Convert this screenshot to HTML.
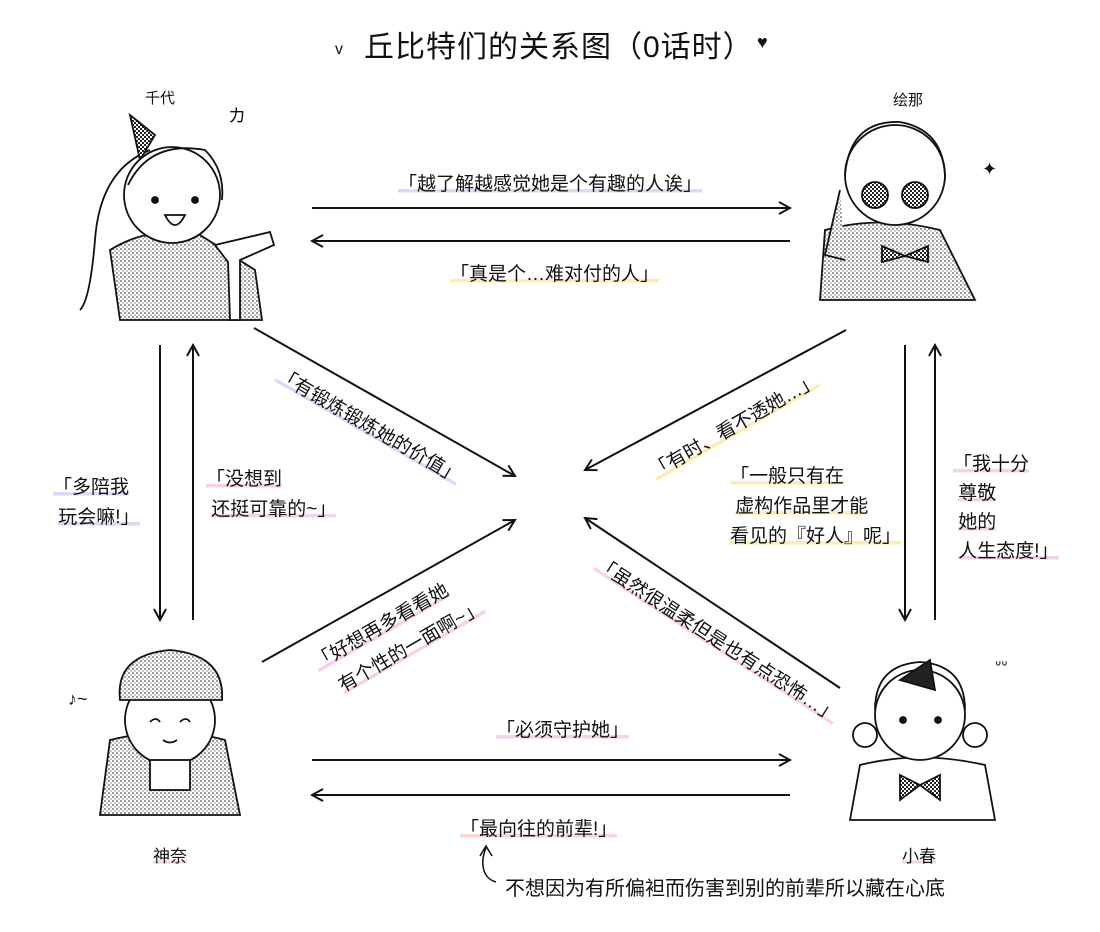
<!DOCTYPE html>
<html><head><meta charset="utf-8"><style>
html,body{margin:0;padding:0;background:#fff}
body{width:1100px;height:932px;position:relative;overflow:hidden;font-family:"Liberation Sans","Noto Sans CJK SC",sans-serif;color:#111}
.t{position:absolute;font-size:19px;line-height:30px;white-space:nowrap}
.p{background:linear-gradient(transparent 72%,rgba(240,180,220,.6) 72%,rgba(240,180,220,.6) 88%,transparent 88%)}
.y{background:linear-gradient(transparent 72%,rgba(250,230,140,.7) 72%,rgba(250,230,140,.7) 88%,transparent 88%)}
.l{background:linear-gradient(transparent 72%,rgba(200,190,240,.6) 72%,rgba(200,190,240,.6) 88%,transparent 88%)}
.r{background:linear-gradient(transparent 72%,rgba(245,185,185,.6) 72%,rgba(245,185,185,.6) 88%,transparent 88%)}
</style></head><body>
<svg width="1100" height="932" style="position:absolute;left:0;top:0">
<defs>
<pattern id="st" width="4" height="4" patternUnits="userSpaceOnUse"><rect width="4" height="4" fill="#fff"/><circle cx="1" cy="1" r="0.9" fill="#555"/><circle cx="3" cy="3" r="0.7" fill="#777"/></pattern>
<pattern id="ck" width="4" height="4" patternUnits="userSpaceOnUse"><rect width="4" height="4" fill="#fff"/><rect width="2" height="2" fill="#222"/><rect x="2" y="2" width="2" height="2" fill="#222"/></pattern>
<marker id="a" markerWidth="14" markerHeight="14" refX="12" refY="7" orient="auto" markerUnits="userSpaceOnUse"><path d="M1,1 L12,7 L1,13" fill="none" stroke="#111" stroke-width="2"/></marker>
</defs>
<g stroke="#111" stroke-width="2" fill="none" marker-end="url(#a)">
<line x1="312" y1="208" x2="790" y2="208"/>
<line x1="790" y1="241" x2="312" y2="241"/>
<line x1="312" y1="760" x2="790" y2="760"/>
<line x1="790" y1="795" x2="312" y2="795"/>
<line x1="160" y1="345" x2="160" y2="620"/>
<line x1="193" y1="620" x2="193" y2="345"/>
<line x1="905" y1="345" x2="905" y2="620"/>
<line x1="935" y1="620" x2="935" y2="345"/>
<line x1="254" y1="328" x2="515" y2="476"/>
<line x1="846" y1="330" x2="585" y2="470"/>
<line x1="262" y1="662" x2="515" y2="520"/>
<line x1="840" y1="688" x2="585" y2="518"/>
</g>
<path d="M496,882 C482,878 480,862 486,848" fill="none" stroke="#111" stroke-width="1.5"/>
<path d="M480,856 L486,846 L492,856" fill="none" stroke="#111" stroke-width="1.5"/>
<g stroke="#111" stroke-width="1.8">
<path d="M120,320 L110,250 Q150,225 200,235 L255,270 L262,320 Z" fill="url(#st)"/>
<path d="M150,150 Q100,170 95,240 Q90,300 80,310" fill="none"/>
<path d="M130,115 L155,135 L140,160 Z" fill="url(#ck)"/>
<circle cx="172" cy="195" r="48" fill="#fff"/>
<path d="M128,185 Q150,140 205,150 Q225,170 222,200" fill="none"/>
<circle cx="155" cy="200" r="3" fill="#111"/><circle cx="195" cy="200" r="3" fill="#111"/>
<path d="M165,215 Q175,235 185,215 Z" fill="#fff"/>
<path d="M215,245 L270,232 L274,245 L240,260 L240,320 L230,320 L228,262 Z" fill="#fff"/>
</g>
<g stroke="#111" stroke-width="1.8">
<path d="M820,300 L825,230 Q880,215 940,230 L975,300 Z" fill="url(#st)"/>
<circle cx="895" cy="175" r="50" fill="#fff"/>
<path d="M845,175 Q850,120 900,122 Q945,130 945,180" fill="none"/>
<circle cx="875" cy="195" r="13" fill="url(#ck)"/><circle cx="915" cy="195" r="13" fill="url(#ck)"/>
<path d="M882,246 L905,256 L928,246 L928,262 L905,256 L882,262 Z" fill="url(#ck)"/>
<path d="M840,190 L825,255 L845,260" fill="url(#st)"/>
</g>
<g stroke="#111" stroke-width="1.8">
<path d="M100,815 L110,740 Q170,725 225,740 L240,815 Z" fill="url(#st)"/>
<circle cx="170" cy="720" r="45" fill="#fff"/>
<path d="M120,700 Q115,655 170,650 Q225,655 222,700 Z" fill="url(#st)"/>
<path d="M150,722 Q156,716 160,722 M180,722 Q186,716 190,722" fill="none"/>
<path d="M163,740 Q170,745 177,740" fill="none"/>
<rect x="150" y="760" width="40" height="30" fill="#fff"/>
</g>
<g stroke="#111" stroke-width="1.8">
<path d="M850,820 L860,765 Q920,750 985,765 L995,820 Z" fill="#fff"/>
<circle cx="920" cy="715" r="45" fill="#fff"/>
<path d="M875,710 Q875,665 920,662 Q965,665 965,710" fill="none"/>
<path d="M900,680 L930,660 L935,690 Z" fill="#222"/>
<circle cx="903" cy="720" r="3" fill="#111"/><circle cx="938" cy="720" r="3" fill="#111"/>
<path d="M900,775 L920,785 L940,775 L940,800 L920,785 L900,800 Z" fill="url(#ck)"/>
<circle cx="865" cy="735" r="12" fill="#fff"/><circle cx="975" cy="735" r="12" fill="#fff"/>
</g>
<text x="228" y="122" font-size="18" fill="#111">カ</text>
<text x="982" y="175" font-size="18" fill="#111">✦</text>
<text x="68" y="705" font-size="18" fill="#111">♪~</text>
<text x="995" y="672" font-size="16" fill="#111">ᐡᐡ</text>
<text x="335" y="54" font-size="16" fill="#111">v</text>
<text x="757" y="48" font-size="18" fill="#111">♥</text>
</svg>
<div class="t" style="left:364px;top:28px;font-size:30px;line-height:40px;letter-spacing:1px">丘比特们的关系图（0话时）</div>
<div class="t" style="left:145px;top:84px;font-size:15px">千代</div>
<div class="t" style="left:893px;top:86px;font-size:15px">绘那</div>
<div class="t" style="left:153px;top:842px;font-size:17px"><span class="p">神奈</span></div>
<div class="t" style="left:902px;top:842px;font-size:17px"><span class="p">小春</span></div>
<div class="t" style="left:398px;top:170px"><span class="l">「越了解越感觉她是个有趣的人诶」</span></div>
<div class="t" style="left:450px;top:260px"><span class="y">「真是个…难对付的人」</span></div>
<div class="t" style="left:496px;top:716px"><span class="p">「必须守护她」</span></div>
<div class="t" style="left:460px;top:815px"><span class="r">「最向往的前辈!」</span></div>
<div class="t" style="left:505px;top:874px;font-size:20px">不想因为有所偏袒而伤害到别的前辈所以藏在心底</div>
<div class="t" style="left:53px;top:473px"><span class="l">「多陪我</span><br>&nbsp;<span class="l">玩会嘛!」</span></div>
<div class="t" style="left:206px;top:465px"><span class="p">「没想到</span><br>&nbsp;<span class="p">还挺可靠的~」</span></div>
<div class="t" style="left:730px;top:462px"><span class="y">「一般只有在</span><br>&nbsp;<span class="y">虚构作品里才能</span><br><span class="y">看见的『好人』呢」</span></div>
<div class="t" style="left:953px;top:450px;line-height:29px"><span class="p">「我十分</span><br>&nbsp;<span class="p">尊敬</span><br>&nbsp;<span class="p">她的</span><br>&nbsp;<span class="p">人生态度!」</span></div>
<div class="t" style="left:264px;top:412px;transform:rotate(30deg);transform-origin:center"><span class="l">「有锻炼锻炼她的价值」</span></div>
<div class="t" style="left:640px;top:412px;transform:rotate(-30deg);transform-origin:center"><span class="y">「有时、看不透她…」</span></div>
<div class="t" style="left:312px;top:604px;transform:rotate(-30deg);transform-origin:center;line-height:32px"><span class="p">「好想再多看看她</span><br>&nbsp;&nbsp;<span class="p">有个性的一面啊~」</span></div>
<div class="t" style="left:574px;top:626px;transform:rotate(33deg);transform-origin:center"><span class="r">「虽然很温柔但是也有点恐怖…」</span></div>
</body></html>
